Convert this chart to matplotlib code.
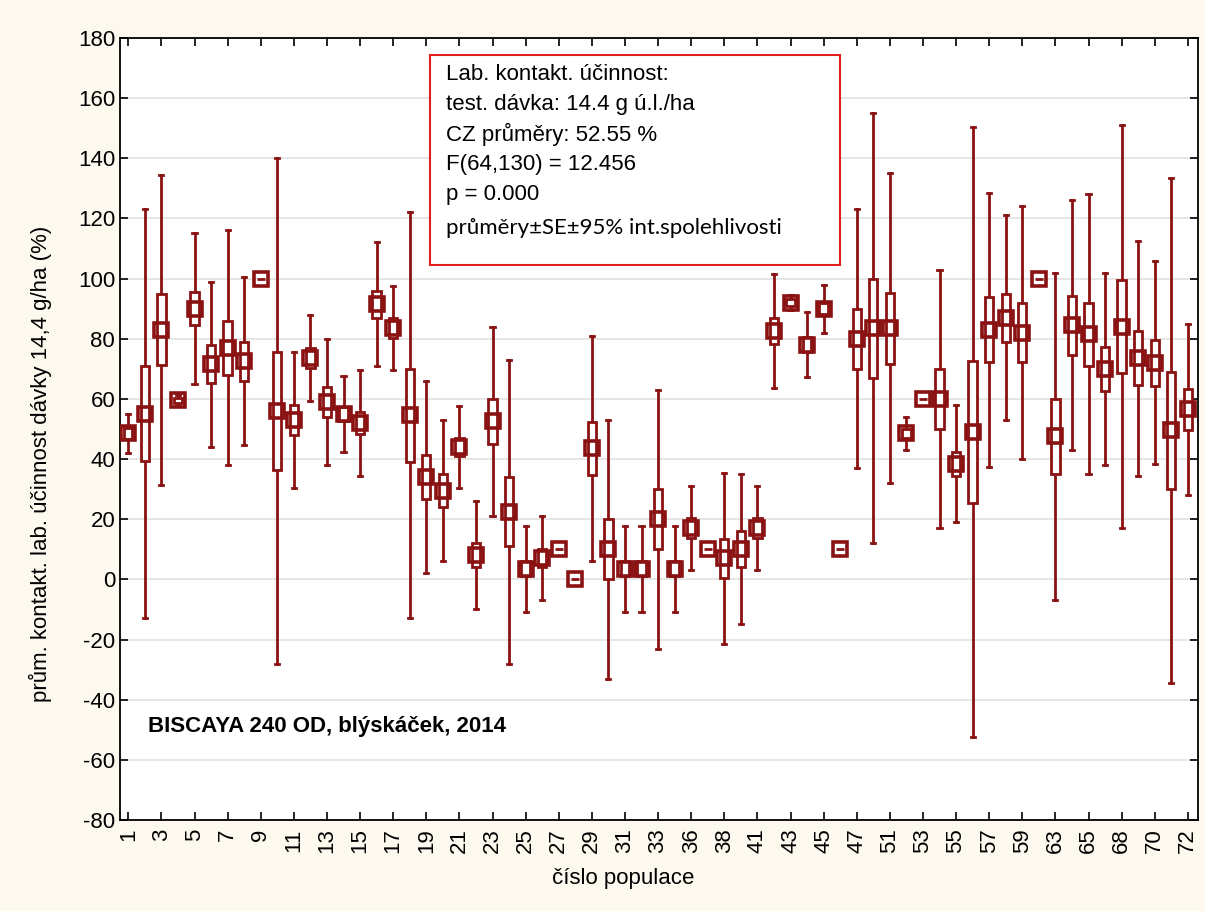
import matplotlib
matplotlib.use("Agg")
import matplotlib.pyplot as plt
from matplotlib.patches import Rectangle

# --- DATA ---
populace = [1, 2, 3, 4, 5, 6, 7, 8, 9, 10, 11, 12, 13, 14, 15, 16, 17, 18, 19, 20,
            21, 22, 23, 24, 25, 26, 27, 28, 29, 30, 31, 32, 33, 34, 36, 37, 38, 39,
            41, 42, 43, 44, 45, 46, 47, 49, 51, 52, 53, 54, 55, 56, 57, 58, 59, 61,
            63, 64, 65, 66, 68, 69, 70, 71, 72]

means = [48.5, 55, 83, 59.5, 90, 71.5, 77, 72.5, 100, 56,
         53, 73.5, 59, 55, 52, 91.5, 83.5, 54.5, 34, 29.5,
         44, 8, 52.5, 22.5, 3.5, 7, 10, 0, 43.5, 10,
         3.5, 3.5, 20, 3.5, 17, 10, 7, 10, 17, 82.5,
         92, 78, 90, 10, 80, 83.5, 83.5, 48.5, 60, 60,
         38.5, 49, 83, 87, 82, 100, 47.5, 84.5, 81.5, 70,
         84, 73.5, 72, 49.5, 56.5]

# standard error (box half-height)
se = [1.8, 15.8, 11.8, 0.8, 5.5, 6.3, 9, 6.5, 0, 19.5,
      5, 3.3, 5, 2.3, 3.7, 4.5, 3.3, 15.5, 7.3, 5.5,
      3, 4, 7.5, 11.5, 2.5, 3, 0, 0, 8.7, 10,
      2.5, 2.5, 10, 2.5, 3.3, 0, 6.5, 6, 3.3, 4.3,
      1.2, 2.5, 1.8, 0, 10, 16.5, 11.8, 1.5, 0, 10,
      4, 23.5, 10.7, 8, 9.8, 0, 12.5, 9.8, 10.5, 7.3,
      15.5, 9, 7.7, 19.5, 6.8]

# half-width of the 95% confidence interval (whiskers)
ci = [6.5, 68, 51.5, 1.8, 25, 27.5, 39, 28, 0, 84,
      22.5, 14.3, 21, 12.5, 17.5, 20.5, 14, 67.5, 32, 23.5,
      13.5, 18, 31.5, 50.5, 14.2, 14, 0, 0, 37.5, 43,
      14.2, 14.2, 43, 14.2, 14, 0, 28.5, 25, 14, 19,
      2.5, 10.8, 8, 0, 43, 71.5, 51.5, 5.5, 0, 43,
      19.5, 101.5, 45.5, 34, 42, 0, 54.5, 41.5, 46.5, 32,
      67, 39, 33.8, 84, 28.5]

info_lines = ["Lab. kontakt. účinnost:",
              "test. dávka: 14.4 g ú.l./ha",
              "CZ průměry: 52.55 %",
              "F(64,130) = 12.456",
              "p = 0.000"]
info_last = "průměry±SE±95% int.spolehlivosti"

# --- PLOT ---
plt.rcParams['font.family'] = ['Liberation Sans', 'DejaVu Sans']
plt.rcParams['axes.unicode_minus'] = False
col = '#8B1212'

fig = plt.figure(figsize=(12.05, 9.11), dpi=100, facecolor='#FDF9EE')
ax = fig.add_axes([0.0996, 0.0999, 0.8944, 0.8585])
ax.set_facecolor('white')

box_w = 0.5
cap_w = 0.25
for i, (m, s, c) in enumerate(zip(means, se, ci)):
    if c > 0:
        ax.plot([i, i], [m - c, m + c], color=col, lw=2, zorder=2)
        ax.plot([i - cap_w / 2, i + cap_w / 2], [m - c, m - c], color=col, lw=2, zorder=2)
        ax.plot([i - cap_w / 2, i + cap_w / 2], [m + c, m + c], color=col, lw=2, zorder=2)
    ax.add_patch(Rectangle((i - box_w / 2, m - s), box_w, 2 * s, facecolor='white',
                           edgecolor=col, lw=2, zorder=3))
    ax.plot(i, m, marker='s', ms=9.5, mfc='none', mec=col, mew=2.6, zorder=4)

ax.set_xlim(-0.5, 64.6)
ax.set_ylim(-80, 180)
ax.set_yticks(range(-80, 181, 20))
ax.set_xticks(range(0, len(populace), 2))
ax.set_xticklabels([str(p) for p in populace[::2]], rotation=90)
ax.tick_params(axis='both', direction='in', length=6, width=1.2, labelsize=16,
               top=True, right=True, colors='black')
ax.tick_params(axis='x', pad=6)
ax.yaxis.grid(True, color='#E2E2E2', lw=1.2, zorder=0)
ax.set_axisbelow(True)
for sp in ax.spines.values():
    sp.set_linewidth(1.3)

ax.set_ylabel('prům. kontakt. lab. účinnost dávky 14,4 g/ha (%)', fontsize=16)
ax.yaxis.set_label_coords(-0.063, 0.455)
ax.set_xlabel('číslo populace', fontsize=16)
ax.xaxis.set_label_coords(0.467, -0.062)

ax.text(1.2, -49, 'BISCAYA 240 OD, blýskáček, 2014', fontsize=16, fontweight='bold',
        va='center', ha='left')

# info box
ax.add_patch(Rectangle((18.25, 104.5), 24.75, 69.8, facecolor='white',
                       edgecolor='#E02020', lw=1.5, zorder=5))
for k, line in enumerate(info_lines):
    ax.text(19.2, 167.7 - k * 9.9, line, fontsize=16, va='center', ha='left', zorder=6)
ax.text(19.2, 167.7 - 5 * 10.2, info_last, fontsize=16, va='center', ha='left', zorder=6,
        family=['Lato', 'DejaVu Sans'])

fig.savefig('out.png', dpi=100, facecolor=fig.get_facecolor())
